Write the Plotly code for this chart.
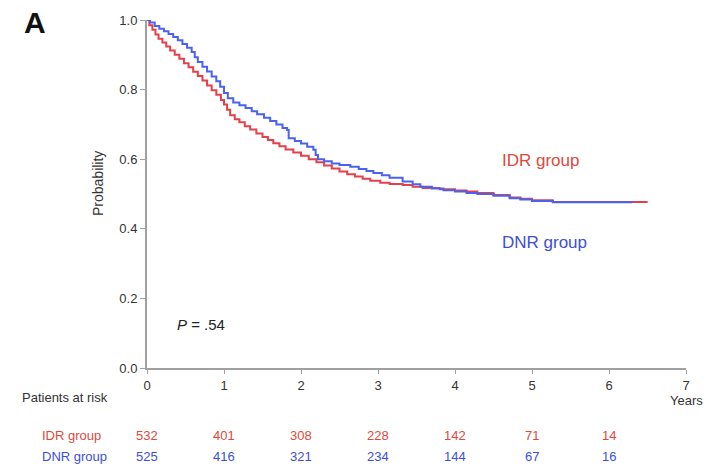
import plotly.graph_objects as go

# Kaplan-Meier step data
idr_t = [0, 0.03, 0.07, 0.11, 0.15, 0.2, 0.25, 0.3, 0.36, 0.42, 0.48, 0.54, 0.6, 0.66, 0.72, 0.78, 0.84,
         0.9, 0.96, 1.0, 1.04, 1.08, 1.14, 1.2, 1.27, 1.34, 1.42, 1.5, 1.57, 1.64, 1.72, 1.8, 1.9, 2.0,
         2.1, 2.2, 2.3, 2.4, 2.5, 2.6, 2.7, 2.8, 2.9, 3.03, 3.15, 3.32, 3.45, 3.58, 3.8, 4.0, 4.15, 4.29,
         4.5, 4.71, 4.85, 5.0, 5.27, 6.49]
idr_s = [1.0, 0.985, 0.972, 0.958, 0.946, 0.935, 0.924, 0.912, 0.9, 0.889, 0.876, 0.864, 0.851, 0.839,
         0.826, 0.812, 0.798, 0.785, 0.77, 0.757, 0.742, 0.726, 0.715, 0.706, 0.695, 0.685, 0.674, 0.664,
         0.655, 0.646, 0.637, 0.628, 0.619, 0.61, 0.6, 0.591, 0.582, 0.573, 0.565, 0.557, 0.55, 0.544,
         0.538, 0.532, 0.529, 0.526, 0.521, 0.517, 0.514, 0.51, 0.507, 0.503, 0.497, 0.49, 0.486, 0.482,
         0.477, 0.475]
dnr_t = [0, 0.04, 0.1, 0.16, 0.22, 0.28, 0.34, 0.4, 0.46, 0.52, 0.58, 0.62, 0.66, 0.72, 0.78, 0.84, 0.9,
         0.95, 1.0, 1.05, 1.12, 1.2, 1.28, 1.36, 1.43, 1.52, 1.6, 1.68, 1.76, 1.82, 1.84, 1.92, 2.0, 2.08,
         2.16, 2.19, 2.22, 2.3, 2.4, 2.5, 2.64, 2.75, 2.85, 2.94, 3.05, 3.15, 3.32, 3.45, 3.55, 3.7, 3.85,
         4.0, 4.15, 4.29, 4.5, 4.71, 4.85, 5.0, 5.27, 6.3]
dnr_s = [1.0, 0.993, 0.983, 0.975, 0.968, 0.96, 0.951, 0.942, 0.931, 0.92, 0.908, 0.893, 0.879, 0.866,
         0.852, 0.838, 0.824, 0.808, 0.79, 0.775, 0.763, 0.755, 0.747, 0.738, 0.729, 0.719, 0.71, 0.7,
         0.69, 0.684, 0.66, 0.652, 0.645, 0.636, 0.627, 0.612, 0.6, 0.594, 0.588, 0.583, 0.578, 0.572,
         0.566, 0.56, 0.554, 0.547, 0.536, 0.528, 0.521, 0.516, 0.511, 0.507, 0.503, 0.5, 0.495, 0.488,
         0.484, 0.48, 0.476, 0.475]

risk_years = [0, 1, 2, 3, 4, 5, 6]
idr_risk = [532, 401, 308, 228, 142, 71, 14]
dnr_risk = [525, 416, 321, 234, 144, 67, 16]

RED = "#e5404a"
BLUE = "#4a62ee"
RED_T = "#e0483c"
BLUE_T = "#3c4fd6"
FONT = "Liberation Sans, Arial, sans-serif"

fig = go.Figure()
fig.add_trace(go.Scatter(x=idr_t, y=idr_s, mode="lines", line=dict(color=RED, width=2, shape="hv"),
                         showlegend=False))
fig.add_trace(go.Scatter(x=dnr_t, y=dnr_s, mode="lines", line=dict(color=BLUE, width=2, shape="hv"),
                         showlegend=False))

fig.update_layout(
    width=717, height=465,
    margin=dict(l=147, r=31, t=20, b=97),
    plot_bgcolor="white", paper_bgcolor="white",
    font=dict(family=FONT, size=13, color="#333"),
    xaxis=dict(range=[0, 7], tickvals=list(range(8)), showgrid=False, zeroline=False,
               showline=True, linecolor="#a0a0a0", linewidth=2, ticks="outside", ticklen=4,
               tickcolor="#a0a0a0", tickfont=dict(size=13, color="#333")),
    yaxis=dict(range=[0, 1], tickvals=[0, 0.2, 0.4, 0.6, 0.8, 1.0], tickformat=".1f",
               showgrid=False, zeroline=False, showline=True, linecolor="#a0a0a0", linewidth=2,
               ticks="outside", ticklen=5, tickcolor="#a0a0a0", tickfont=dict(size=13, color="#333")),
)

anns = [
    dict(text="<b>A</b>", xref="paper", yref="paper", x=-0.232, y=0.994, xanchor="left", yanchor="middle",
         font=dict(size=30, color="#111")),
    dict(text="Probability", xref="paper", yref="paper", x=(98 - 147) / 539, y=(368 - 184) / 348,
         xanchor="center", yanchor="middle", textangle=-90, font=dict(size=14, color="#333")),
    dict(text="IDR group", xref="x", yref="y", x=4.58, y=0.596, xanchor="left", yanchor="middle",
         font=dict(size=17, color=RED_T)),
    dict(text="DNR group", xref="x", yref="y", x=4.58, y=0.362, xanchor="left", yanchor="middle",
         font=dict(size=17, color=BLUE_T)),
    dict(text="<i>P</i> = .54", xref="x", yref="y", x=0.36, y=0.124, xanchor="left", yanchor="middle",
         font=dict(size=15, color="#222")),
    dict(text="Patients at risk", xref="paper", yref="paper", x=-0.236, y=-0.086, xanchor="left",
         yanchor="middle", font=dict(size=13, color="#333")),
    dict(text="Years", xref="paper", yref="paper", x=1.035, y=-0.092, xanchor="right",
         yanchor="middle", font=dict(size=13, color="#333")),
    dict(text="IDR group", xref="paper", yref="paper", x=-0.198, y=-0.195, xanchor="left",
         yanchor="middle", font=dict(size=13, color=RED_T)),
    dict(text="DNR group", xref="paper", yref="paper", x=-0.198, y=-0.253, xanchor="left",
         yanchor="middle", font=dict(size=13, color=BLUE_T)),
]
for yr, a, b in zip(risk_years, idr_risk, dnr_risk):
    anns.append(dict(text=str(a), xref="x", yref="paper", x=yr, y=-0.195, xanchor="center",
                     yanchor="middle", font=dict(size=13, color=RED_T)))
    anns.append(dict(text=str(b), xref="x", yref="paper", x=yr, y=-0.253, xanchor="center",
                     yanchor="middle", font=dict(size=13, color=BLUE_T)))
for a in anns:
    a["showarrow"] = False
fig.update_layout(annotations=anns)

fig.write_html("out.html")
